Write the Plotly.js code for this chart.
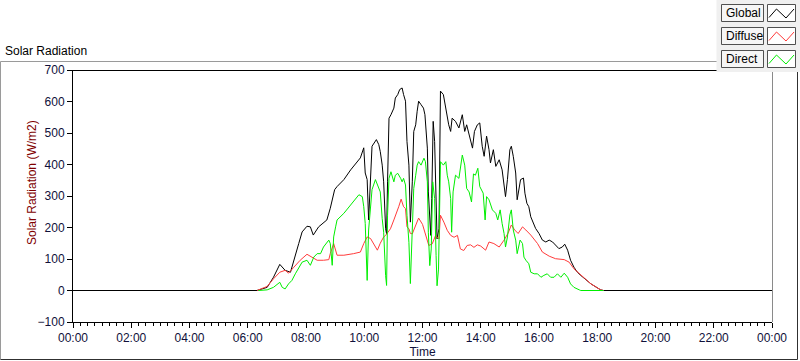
<!DOCTYPE html>
<html>
<head>
<meta charset="utf-8">
<script src="https://cdn.plot.ly/plotly-3.0.1.min.js"></script>
<style>
html,body{margin:0;padding:0;background:#ffffff;}
#chart{width:800px;height:361px;}
</style>
</head>
<body>
<div id="chart"></div>
<script>
// ---- data ----
const seriesNames = ["Global", "Diffuse", "Direct"];
const xTickLabels = ["00:00","02:00","04:00","06:00","08:00","10:00","12:00","14:00","16:00","18:00","20:00","22:00","00:00"];

const globalTime = ["00:00","06:19","06:40","06:53","07:06","07:17","07:28","07:38","07:45","07:52","08:02","08:09","08:15","08:26","08:43","08:50","08:59","09:04","09:18","09:32","09:45","09:52","09:59","10:02","10:06","10:09","10:16","10:25","10:30","10:33","10:37","10:40","10:44","10:46","10:48","10:51","10:55","11:01","11:04","11:09","11:13","11:18","11:21","11:25","11:28","11:32","11:35","11:39","11:42","11:46","11:49","11:52","11:57","12:02","12:05","12:10","12:12","12:15","12:17","12:19","12:22","12:25","12:28","12:30","12:34","12:37","12:43","12:48","12:51","12:54","12:58","13:01","13:08","13:15","13:22","13:27","13:31","13:36","13:43","13:47","13:53","13:58","14:03","14:07","14:12","14:17","14:20","14:26","14:31","14:38","14:44","14:51","14:55","15:00","15:03","15:07","15:12","15:15","15:19","15:22","15:28","15:31","15:35","15:39","15:43","15:48","15:53","16:00","16:07","16:14","16:21","16:28","16:34","16:41","16:48","16:53","16:59","17:05","17:12","17:19","17:26","17:47","18:07","18:13","24:00"];
const globalVal = [0,0,10,42,83,64,58,117,149,186,204,202,176,202,224,261,320,330,352,383,410,421,453,373,352,224,458,479,463,441,398,345,196,180,345,547,558,579,611,622,638,643,622,601,473,398,217,345,505,526,569,601,590,579,558,452,313,239,175,292,537,473,260,164,196,633,622,579,547,526,505,547,537,516,558,505,526,494,452,505,526,532,458,426,490,447,405,447,394,415,383,298,352,447,458,426,373,288,320,352,357,309,277,266,234,213,197,181,160,154,160,154,144,133,138,147,128,96,74,58,48,21,2,0,0];

const diffuseTime = ["06:19","06:40","06:53","07:06","07:17","07:24","07:35","07:48","08:02","08:12","08:23","08:36","08:47","08:50","08:57","09:04","09:18","09:38","09:52","09:59","10:06","10:13","10:20","10:27","10:33","10:40","10:44","10:51","10:54","11:01","11:04","11:11","11:16","11:21","11:25","11:28","11:32","11:35","11:39","11:46","11:52","12:00","12:06","12:13","12:20","12:27","12:34","12:37","12:44","12:51","12:58","13:05","13:12","13:18","13:25","13:32","13:39","13:46","13:53","14:00","14:10","14:17","14:27","14:38","14:48","14:56","15:03","15:10","15:17","15:26","15:33","15:43","15:57","16:07","16:21","16:34","16:52","17:02","17:12","17:23","17:47","18:07","18:13"];
const diffuseVal = [0,13,37,58,64,55,74,96,115,106,96,96,98,117,149,112,112,117,122,149,170,165,144,128,150,170,175,192,196,224,239,266,290,266,260,202,196,181,180,210,230,210,175,143,148,175,164,239,217,191,175,169,175,132,127,143,145,137,145,141,128,154,149,138,160,181,208,192,181,202,192,176,149,122,109,101,98,90,69,53,21,2,0];

const directTime = ["06:22","06:40","06:53","07:06","07:11","07:17","07:24","07:31","07:38","07:45","07:52","08:02","08:09","08:16","08:23","08:30","08:36","08:47","08:50","08:54","08:57","09:01","09:04","09:18","09:32","09:42","09:49","09:56","09:59","10:02","10:06","10:09","10:16","10:23","10:30","10:33","10:37","10:40","10:44","10:46","10:48","10:51","10:55","11:01","11:04","11:09","11:15","11:18","11:21","11:25","11:28","11:32","11:35","11:39","11:42","11:46","11:49","11:52","11:57","12:03","12:06","12:10","12:12","12:15","12:18","12:21","12:25","12:28","12:30","12:33","12:37","12:43","12:48","12:51","12:54","12:58","13:00","13:03","13:08","13:15","13:22","13:27","13:31","13:36","13:41","13:45","13:49","13:54","13:58","14:05","14:09","14:12","14:17","14:24","14:31","14:35","14:40","14:44","14:48","14:51","14:55","15:00","15:03","15:07","15:12","15:15","15:21","15:26","15:29","15:33","15:39","15:43","15:50","15:57","16:04","16:10","16:17","16:24","16:31","16:38","16:45","16:52","16:59","17:05","17:12","17:23","17:26","18:13"];
const directVal = [0,2,10,26,10,5,21,32,53,74,90,96,80,106,117,117,138,160,149,80,170,202,224,245,272,293,304,298,266,213,32,192,320,352,320,313,228,185,47,16,239,356,377,345,366,372,356,345,356,335,239,153,22,196,324,366,398,409,398,420,409,345,185,79,132,345,292,111,15,68,409,398,409,366,345,292,185,313,366,356,430,398,324,313,281,370,366,388,330,309,224,298,288,256,245,224,256,213,181,138,170,240,256,192,160,117,160,149,106,96,85,58,53,53,42,48,53,42,42,53,42,55,42,21,10,2,0,0];

const seriesColors = ["#000000", "#ff3b3b", "#00ee00"];

// ---- helpers ----
function toDate(t) {
  if (t === "24:00") return "2024-01-02 00:00";
  return "2024-01-01 " + t;
}
// plot area in pixels (matches margins below)
const L = 73, T = 70, W = 699, H = 252;
const px = x => (x - L) / W;
const py = y => (T + H - y) / H;

const times = [globalTime, diffuseTime, directTime];
const vals = [globalVal, diffuseVal, directVal];
const traces = seriesNames.map((name, i) => ({
  type: "scatter",
  mode: "lines",
  name: name,
  x: times[i].map(toDate),
  y: vals[i],
  line: {color: seriesColors[i], width: 1},
  hoverinfo: "skip"
}));

const font = "Liberation Sans, Arial, sans-serif";
const tickColor = "#10103a";

const shapes = [];
const annotations = [];
function line(x0, y0, x1, y1, color) {
  shapes.push({type: "line", xref: "paper", yref: "paper",
    x0: px(x0), y0: py(y0), x1: px(x1), y1: py(y1),
    line: {color: color, width: 1}});
}
function rect(x0, y0, x1, y1, lineColor, fill) {
  shapes.push({type: "rect", xref: "paper", yref: "paper",
    x0: px(x0), y0: py(y0), x1: px(x1), y1: py(y1),
    line: {color: lineColor, width: lineColor ? 1 : 0}, fillcolor: fill});
}
// outer panel frame
line(0.5, 61.5, 797.5, 61.5, "#9a9a9a");
line(0.5, 61.5, 0.5, 359.5, "#9a9a9a");
line(0.5, 359.5, 797.5, 359.5, "#303030");
line(797.5, 61.5, 797.5, 359.5, "#303030");
// plot top and right border
line(73, 70.5, 772, 70.5, "#000000");
line(772.5, 70, 772.5, 322, "#8a8a8a");
// legend panel
rect(716.5, 0, 800, 72, null, "#f0f0f0");
const rowTop = [4.5, 27.5, 50.5];
seriesNames.forEach((name, i) => {
  const y0 = rowTop[i];
  rect(721.5, y0, 763.5, y0 + 17, "#505050", "#f6f6f6");
  rect(767.5, y0, 795.5, y0 + 17, "#505050", "#ffffff");
  const pts = [[769, y0 + 13], [776.5, y0 + 4.5], [786, y0 + 13.5], [794, y0 + 4.5]];
  let d = "M" + px(pts[0][0]) + "," + py(pts[0][1]);
  for (let k = 1; k < pts.length; k++) d += " L" + px(pts[k][0]) + "," + py(pts[k][1]);
  shapes.push({type: "path", xref: "paper", yref: "paper", path: d,
    line: {color: seriesColors[i], width: 1}});
  annotations.push({xref: "paper", yref: "paper", x: px(723.5), y: py(y0 + 8.5),
    xanchor: "left", yanchor: "middle", showarrow: false, text: name,
    font: {family: font, size: 12, color: "#000000"}});
});
// chart label, axis titles
annotations.push({xref: "paper", yref: "paper", x: px(3), y: py(51),
  xanchor: "left", yanchor: "middle", showarrow: false, text: "Solar Radiation",
  font: {family: font, size: 12, color: "#000000"}});
annotations.push({xref: "paper", yref: "paper", x: px(32), y: py(183),
  xanchor: "center", yanchor: "middle", showarrow: false, textangle: -90,
  text: "Solar Radiation (W/m2)", font: {family: font, size: 12, color: "#800000"}});

const layout = {
  width: 800, height: 361,
  margin: {l: L, r: 800 - L - W, t: T, b: 361 - T - H, pad: 0},
  paper_bgcolor: "#ffffff", plot_bgcolor: "#ffffff",
  showlegend: false,
  font: {family: font, size: 12, color: tickColor},
  xaxis: {
    type: "date",
    range: ["2024-01-01 00:00", "2024-01-02 00:00"],
    tickmode: "array",
    tickvals: xTickLabels.map((t, i) => i === xTickLabels.length - 1 ? "2024-01-02 00:00" : toDate(t)),
    ticktext: xTickLabels,
    ticks: "outside", ticklen: 5, tickwidth: 1, tickcolor: "#000000",
    minor: {dtick: 900000, tick0: "2024-01-01", ticks: "outside", ticklen: 3, tickwidth: 1, tickcolor: "#000000", showgrid: false},
    showline: true, linecolor: "#000000", linewidth: 1,
    showgrid: false, zeroline: false,
    tickfont: {family: font, size: 12, color: tickColor},
    title: {text: "Time", font: {family: font, size: 12, color: tickColor}, standoff: 2},
    fixedrange: true
  },
  yaxis: {
    range: [-100, 700],
    dtick: 100, tick0: 0,
    ticks: "outside", ticklen: 5, tickwidth: 1, tickcolor: "#000000",
    showline: true, linecolor: "#000000", linewidth: 1,
    showgrid: false, zeroline: false,
    tickfont: {family: font, size: 12, color: tickColor},
    fixedrange: true
  },
  shapes: shapes,
  annotations: annotations
};

Plotly.newPlot("chart", traces, layout, {displayModeBar: false, staticPlot: true});
</script>
</body>
</html>
